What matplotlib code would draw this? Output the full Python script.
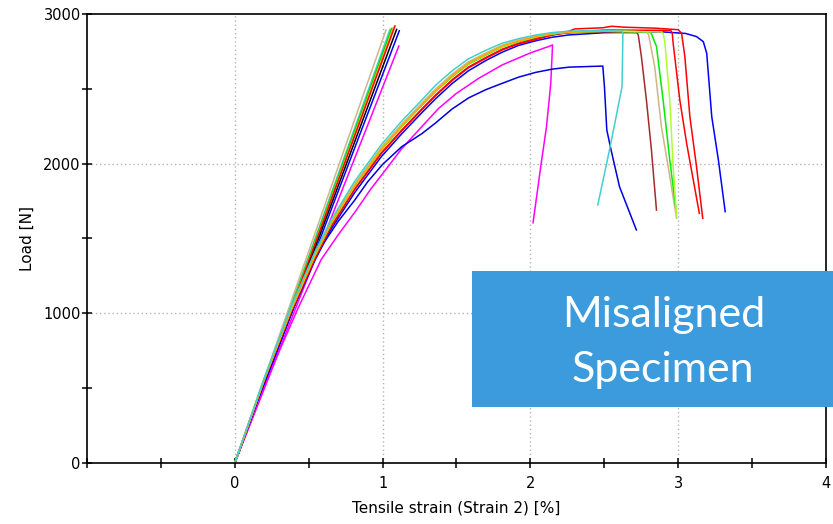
import matplotlib.pyplot as plt
from matplotlib.patches import Rectangle

# straight (elastic) lines: tip of each line, all start at the origin
lin_colors = ['#d2b48c', '#40d0d0', '#00e000', '#ffa500', '#ff0000', '#000000', '#0000ff', '#ff00ff']
lin_tip_x = [1.023, 1.050, 1.061, 1.073, 1.084, 1.095, 1.113, 1.110]
lin_tip_y = [2893, 2897, 2903, 2909, 2920, 2897, 2888, 2786]

# curves
rise_x = [0, 0.2, 0.38, 0.54, 0.65, 0.81, 0.99, 1.13, 1.27, 1.36, 1.47, 1.58, 1.70, 1.81, 1.92, 2.04, 2.15, 2.26]

blue2_y = [0, 545, 995, 1350, 1560, 1805, 2045, 2200, 2345, 2435, 2535, 2620, 2690, 2745, 2790, 2822, 2845, 2860]
blue2_tx = [2.5, 2.9, 3.05, 3.124, 3.17, 3.193, 3.227, 3.272, 3.318]
blue2_ty = [2875, 2880, 2870, 2849, 2815, 2737, 2314, 2024, 1679]

red2_y = [0, 552, 1005, 1360, 1575, 1825, 2065, 2220, 2365, 2455, 2555, 2640, 2705, 2760, 2800, 2830, 2860, 2885]
red2_tx = [2.3, 2.49, 2.55, 2.63, 2.85, 3.0, 3.023, 3.045, 3.079, 3.124, 3.166]
red2_ty = [2900, 2908, 2918, 2912, 2905, 2895, 2871, 2715, 2314, 1980, 1635]

red1_y = [0, 555, 1010, 1365, 1580, 1830, 2070, 2225, 2370, 2460, 2560, 2645, 2710, 2765, 2805, 2838, 2860, 2875]
red1_tx = [2.5, 2.95, 2.96, 2.966, 3.011, 3.057, 3.143]
red1_ty = [2893, 2890, 2870, 2804, 2425, 2136, 1668]

ygreen_y = [0, 562, 1022, 1382, 1598, 1850, 2095, 2252, 2398, 2488, 2585, 2668, 2730, 2782, 2818, 2848, 2868, 2880]
ygreen_tx = [2.5, 2.89, 2.90, 2.91, 2.943, 2.966, 2.989]
ygreen_ty = [2885, 2880, 2865, 2806, 2425, 1980, 1646]

green_y = [0, 560, 1020, 1380, 1595, 1848, 2090, 2248, 2394, 2484, 2580, 2664, 2726, 2780, 2815, 2846, 2866, 2878]
green_tx = [2.5, 2.81, 2.82, 2.853, 2.898, 2.943, 2.984]
green_ty = [2885, 2880, 2865, 2783, 2425, 2024, 1701]

tan_y = [0, 565, 1030, 1392, 1608, 1862, 2108, 2265, 2410, 2500, 2598, 2680, 2740, 2792, 2826, 2855, 2872, 2882]
tan_tx = [2.5, 2.79, 2.80, 2.841, 2.886, 2.932, 2.989]
tan_ty = [2890, 2880, 2860, 2648, 2250, 1980, 1635]

brown_y = [0, 560, 1025, 1386, 1600, 1855, 2098, 2255, 2400, 2490, 2588, 2672, 2733, 2786, 2820, 2850, 2866, 2875]
brown_tx = [2.5, 2.72, 2.73, 2.751, 2.785, 2.819, 2.853]
brown_ty = [2880, 2875, 2860, 2715, 2425, 2091, 1690]

orange_y = [0, 558, 1018, 1384, 1600, 1852, 2094, 2252, 2398, 2488, 2586, 2670, 2732, 2786, 2820, 2850, 2868, 2878]
orange_tx = [2.45, 2.6]
orange_ty = [2885, 2885]

cyan_y = [0, 570, 1040, 1405, 1622, 1880, 2125, 2285, 2430, 2525, 2620, 2700, 2758, 2805, 2835, 2860, 2876, 2885]
cyan_tx = [2.45, 2.62, 2.626, 2.62, 2.58, 2.535, 2.456]
cyan_ty = [2890, 2885, 2871, 2514, 2314, 2091, 1724]

blue1_x = [0, 0.2, 0.3, 0.426, 0.585, 0.7, 0.812, 0.9, 1.0, 1.129, 1.265, 1.356, 1.47, 1.583, 1.7,
           1.81, 1.92, 2.036, 2.15, 2.263, 2.49, 2.501, 2.517, 2.546, 2.603, 2.717]
blue1_y = [0, 540, 800, 1130, 1445, 1615, 1757, 1880, 1995, 2113, 2200, 2270, 2365, 2440, 2495,
           2537, 2578, 2610, 2632, 2645, 2652, 2514, 2225, 2091, 1846, 1557]

mag_x = [0, 0.2, 0.3, 0.426, 0.585, 0.7, 0.812, 0.92, 1.037, 1.129, 1.265, 1.38, 1.5, 1.65, 1.81,
         2.0, 2.13, 2.15, 2.138, 2.109, 2.07, 2.018]
mag_y = [0, 500, 745, 1030, 1360, 1525, 1675, 1830, 1980, 2100, 2247, 2370, 2470, 2570, 2660,
         2740, 2785, 2793, 2537, 2247, 1980, 1605]

fig = plt.figure(figsize=(8.33, 5.24), dpi=100)
ax = fig.add_axes([0.1044, 0.1164, 0.8872, 0.8569])

for c, tx, ty in zip(lin_colors, lin_tip_x, lin_tip_y):
    ax.plot([0, tx], [0, ty], color=c, lw=1.1)

ax.plot(mag_x, mag_y, color='#ff00ff', lw=1.1)
ax.plot(blue1_x, blue1_y, color='#0000dd', lw=1.1)
ax.plot(rise_x + blue2_tx, blue2_y + blue2_ty, color='#0000ff', lw=1.1)
ax.plot(rise_x + red2_tx, red2_y + red2_ty, color='#ff0000', lw=1.1)
ax.plot(rise_x + red1_tx, red1_y + red1_ty, color='#ff0000', lw=1.1)
ax.plot(rise_x + brown_tx, brown_y + brown_ty, color='#a52a2a', lw=1.1)
ax.plot(rise_x + tan_tx, tan_y + tan_ty, color='#d2b48c', lw=1.1)
ax.plot(rise_x + green_tx, green_y + green_ty, color='#00ee00', lw=1.1)
ax.plot(rise_x + ygreen_tx, ygreen_y + ygreen_ty, color='#adff2f', lw=1.1)
ax.plot(rise_x + orange_tx, orange_y + orange_ty, color='#ffa500', lw=1.1)
ax.plot(rise_x + cyan_tx, cyan_y + cyan_ty, color='#40d0d0', lw=1.1)

ax.set_xlim(-1, 4)
ax.set_ylim(0, 3000)
ax.set_xticks([-1, -0.5, 0, 0.5, 1, 1.5, 2, 2.5, 3, 3.5, 4])
ax.set_xticklabels(['', '', '0', '', '1', '', '2', '', '3', '', '4'])
ax.set_yticks([0, 500, 1000, 1500, 2000, 2500, 3000])
ax.set_yticklabels(['0', '', '1000', '', '2000', '', '3000'])
ax.tick_params(direction='inout', length=7, width=1.1, labelsize=10.5, colors='black')
ax.tick_params(axis='x', pad=6)
ax.tick_params(axis='y', pad=1)
for s in ax.spines.values():
    s.set_linewidth(1.2)

for gx in [0, 1, 2, 3]:
    ax.axvline(gx, color='#b4b4b4', lw=1, ls=(0, (1, 2)), zorder=0)
for gy in [1000, 2000]:
    ax.axhline(gy, color='#b4b4b4', lw=1, ls=(0, (1, 2)), zorder=0)

ax.set_xlabel('Tensile strain (Strain 2) [%]', fontsize=11, labelpad=7)
ax.set_ylabel('Load [N]', fontsize=11, labelpad=6)

fig.patches.append(Rectangle((0.5666, 0.2233), 0.4334, 0.2595, transform=fig.transFigure,
                             facecolor='#3b9bdc', edgecolor='none', zorder=5))
fig.text(0.797, 0.376, 'Misaligned', color='white', fontsize=31, family='Lato',
         ha='center', va='baseline', zorder=6)
fig.text(0.796, 0.271, 'Specimen', color='white', fontsize=31, family='Lato',
         ha='center', va='baseline', zorder=6)

fig.savefig('out.png', dpi=100)
